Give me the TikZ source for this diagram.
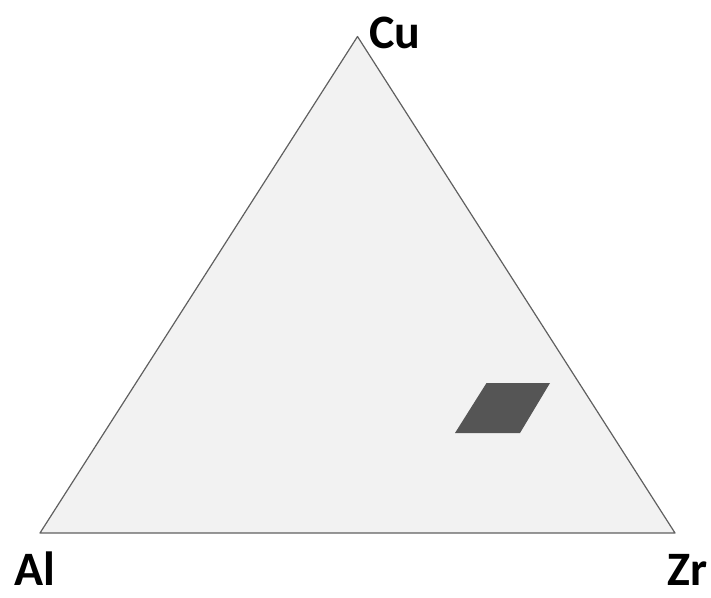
\documentclass[tikz,border=0pt]{standalone}
\usepackage{fontspec}
\setmainfont{Carlito}
\usepackage{xcolor}
\usepackage{tikz}
\definecolor{phasefill}{RGB}{242,242,242}
\definecolor{regiongray}{RGB}{85,85,85}
\usetikzlibrary{positioning,calc}

\begin{document}
\begin{tikzpicture}[
    x=1pt, y=-1pt,
    elem/.style={inner sep=0pt, font=\fontsize{48}{52}\selectfont\bfseries, text=black},
    side/.style={draw=gray!75!black, line width=1.2pt, fill=phasefill, line join=round}
]
\useasboundingbox (0,0) rectangle (711,597);

\coordinate (cu) at (357.5,36.5);
\coordinate (al) at (40,533);
\coordinate (zr) at (675,533);

\draw[side] (cu) -- (al) -- (zr) -- cycle;

% glass forming region
\fill[regiongray] (486.5,383) -- (550,383) -- (520,433) -- (455,433) -- cycle;

\node[elem, anchor=base west] (cuLabel) at (369,48) {Cu};
\node[elem, anchor=base west] (alLabel) at (14,585) {Al};
\node[elem, anchor=base east] (zrLabel) at (708,585) {Zr};

\end{tikzpicture}
\end{document}
